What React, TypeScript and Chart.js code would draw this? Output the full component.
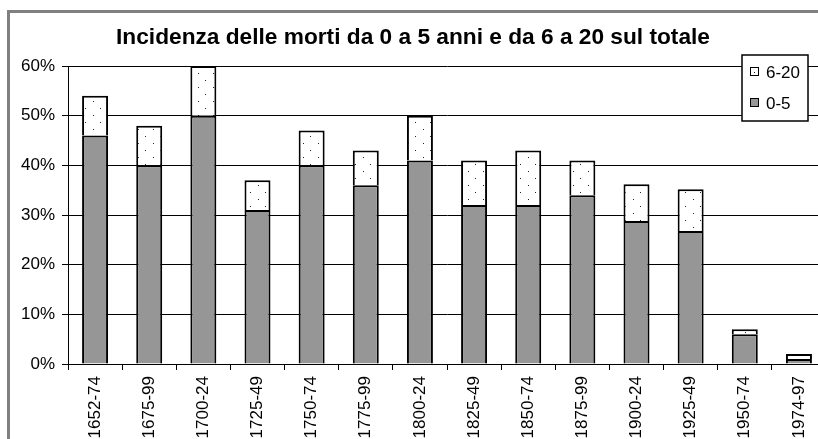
import React, { useEffect, useRef } from 'react';
import { Chart, registerables } from 'chart.js';

Chart.register(...registerables);

const categories = ['1652-74', '1675-99', '1700-24', '1725-49', '1750-74', '1775-99', '1800-24', '1825-49', '1850-74', '1875-99', '1900-24', '1925-49', '1950-74', '1974-97'];
const deaths0to5 = [46, 40, 50, 31, 40, 36, 41, 32, 32, 34, 28.8, 26.8, 6, 1];
const deaths6to20 = [8, 8, 10, 6, 7, 7, 9, 9, 11, 7, 7.4, 8.4, 1, 1];
const yMax = 60;
const yStep = 10;
const titleText = 'Incidenza delle morti da 0 a 5 anni e da 6 a 20 sul totale';
const label0to5 = '0-5';
const label6to20 = '6-20';

const FONT = '"Liberation Sans", Arial, sans-serif';

function makeDotPattern(ctx: CanvasRenderingContext2D): CanvasPattern | string {
  const tile = document.createElement('canvas');
  tile.width = 15;
  tile.height = 14;
  const t = tile.getContext('2d');
  if (!t) return '#fff';
  t.fillStyle = '#ffffff';
  t.fillRect(0, 0, 15, 14);
  t.fillStyle = '#222222';
  t.fillRect(3, 3, 1, 1);
  t.fillRect(10, 10, 1, 1);
  const p = ctx.createPattern(tile, 'repeat');
  return p || '#fff';
}

const boxLegend = {
  id: 'boxLegend',
  afterDraw(chart: any) {
    const ctx: CanvasRenderingContext2D = chart.ctx;
    const x = 742, y = 55, w = 66, h = 66;
    ctx.save();
    ctx.fillStyle = '#ffffff';
    ctx.fillRect(x, y, w, h);
    ctx.strokeStyle = '#000';
    ctx.lineWidth = 1.5;
    ctx.strokeRect(x, y, w, h);
    const items = [...chart.data.datasets].reverse();
    items.forEach((ds: any, i: number) => {
      const cy = y + 17 + i * 31;
      ctx.fillStyle = ds.label === label0to5 ? ds.backgroundColor : '#ffffff';
      ctx.fillRect(750.5, cy - 4.5, 8, 8);
      if (ds.label !== label0to5) {
        ctx.fillStyle = '#222';
        ctx.fillRect(754, cy, 1, 1);
      }
      ctx.lineWidth = 1;
      ctx.strokeStyle = '#000';
      ctx.strokeRect(750.5, cy - 4.5, 8, 8);
      ctx.fillStyle = '#000';
      ctx.font = '17px ' + FONT;
      ctx.textBaseline = 'middle';
      ctx.textAlign = 'left';
      ctx.fillText(ds.label, 766, cy + 1);
    });
    ctx.restore();
  },
};

export default function App() {
  const ref = useRef<HTMLCanvasElement | null>(null);

  useEffect(() => {
    const canvas = ref.current;
    if (!canvas) return;
    const ctx = canvas.getContext('2d');
    if (!ctx) return;
    const pattern = makeDotPattern(ctx);
    const chart = new Chart(canvas, {
      type: 'bar',
      data: {
        labels: categories,
        datasets: [
          {
            label: label0to5,
            data: deaths0to5,
            backgroundColor: '#969696',
            borderColor: '#000',
            borderWidth: 2,
            categoryPercentage: 1,
            barPercentage: 0.48,
          },
          {
            label: label6to20,
            data: deaths6to20,
            backgroundColor: pattern as any,
            borderColor: '#000',
            borderWidth: 2,
            categoryPercentage: 1,
            barPercentage: 0.48,
          },
        ],
      },
      options: {
        responsive: false,
        animation: false,
        devicePixelRatio: 1,
        layout: { padding: { left: 0, right: 4, top: 0, bottom: 0 } },
        plugins: {
          legend: { display: false },
          tooltip: { enabled: false },
          title: {
            display: true,
            text: titleText,
            color: '#000',
            font: { family: FONT, size: 22.7, weight: 'bold', lineHeight: 1.2 },
            padding: { top: 24.4, bottom: 14.4 },
          },
        },
        scales: {
          x: {
            stacked: true,
            afterFit: (scale: any) => { scale.height = 106; },
            grid: { display: true, drawOnChartArea: false, drawTicks: true, tickLength: 6, color: '#000', offset: true },
            border: { display: true, color: '#000', width: 1 },
            ticks: {
              autoSkip: false,
              minRotation: 90,
              maxRotation: 90,
              padding: 6,
              color: '#000',
              font: { family: FONT, size: 17 },
            },
          },
          y: {
            stacked: true,
            min: 0,
            max: yMax,
            afterFit: (scale: any) => { scale.width = 68; },
            grid: { display: true, drawOnChartArea: true, drawTicks: true, tickLength: 6, color: '#000', lineWidth: 1 },
            border: { display: true, color: '#000', width: 1 },
            ticks: {
              stepSize: yStep,
              padding: 7,
              color: '#000',
              font: { family: FONT, size: 17 },
              callback: (v: any) => v + '%',
            },
          },
        },
      },
      plugins: [boxLegend],
    });
    return () => chart.destroy();
  }, []);

  return (
    <div style={{ position: 'fixed', left: 0, top: 0, width: 818, height: 439, overflow: 'hidden', background: '#fff' }}>
      <div style={{ position: 'absolute', left: 7, top: 10, width: 900, height: 600, borderLeft: '3px solid #808080', borderTop: '3px solid #808080' }} />
      <canvas ref={ref} width={830} height={470} style={{ position: 'absolute', left: 0, top: 0, width: 830, height: 470 }} />
    </div>
  );
}
